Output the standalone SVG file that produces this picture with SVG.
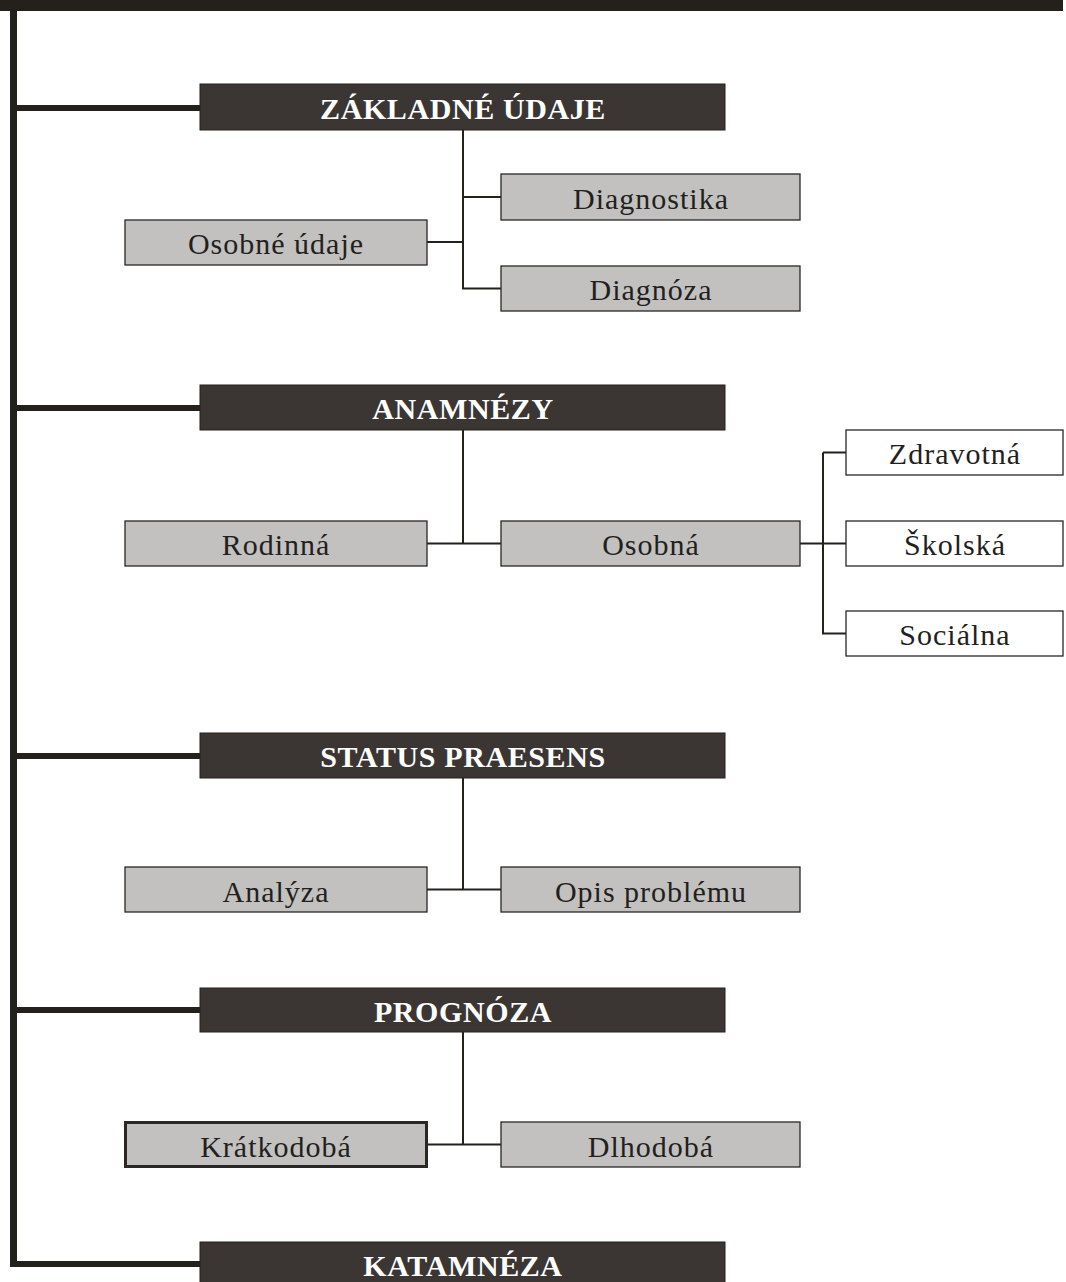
<svg xmlns="http://www.w3.org/2000/svg" width="1066" height="1282" viewBox="0 0 1066 1282">
  <style>
    .head { fill: #3b3633; stroke: #24211c; stroke-width: 1; }
    .item { fill: #c2c1bf; stroke: #2a2724; stroke-width: 1.3; }
    .leaf { fill: #ffffff; stroke: #2a2724; stroke-width: 1.3; }
    .bold { stroke-width: 3; }
    .htxt { font-family: "Liberation Serif", "Times New Roman", serif; font-weight: bold; font-size: 30px; fill: #ffffff; letter-spacing: 0.6px; text-anchor: middle; }
    .txt { font-family: "Liberation Serif", "Times New Roman", serif; font-size: 30px; fill: #231f20; letter-spacing: 1px; text-anchor: middle; }
    .spine { stroke: #24211c; fill: none; }
    .thin { stroke: #24211c; stroke-width: 2; fill: none; }
  </style>

  <g id="connectors">
    <!-- top bar and main spine -->
    <rect x="0" y="0" width="1063" height="11" fill="#24211c"/>
    <line class="spine" x1="13.5" y1="11" x2="13.5" y2="1267" stroke-width="7"/>
    <!-- branches from spine to section headers -->
    <line class="spine" x1="13" y1="108" x2="200" y2="108" stroke-width="6"/>
    <line class="spine" x1="13" y1="408" x2="200" y2="408" stroke-width="6"/>
    <line class="spine" x1="13" y1="756" x2="200" y2="756" stroke-width="6"/>
    <line class="spine" x1="13" y1="1010" x2="200" y2="1010" stroke-width="6"/>
    <line class="spine" x1="13" y1="1264" x2="200" y2="1264" stroke-width="6"/>

    <!-- Základné údaje -->
    <path class="thin" d="M463,130 V288.5 H501 M463,197 H501 M427,242 H463"/>
    <!-- Anamnézy -->
    <path class="thin" d="M463,430 V543.5 M427,543.5 H501 M800,543.5 H846 M823,452.5 V633.5 H846 M823,452.5 H846"/>
    <!-- Status praesens -->
    <path class="thin" d="M463,778 V889.5 M427,889.5 H501"/>
    <!-- Prognóza -->
    <path class="thin" d="M463,1032 V1144.5 M427,1144.5 H501"/>
  </g>

  <g id="zakladne-udaje">
    <rect class="head" x="200" y="84" width="525" height="46"/>
    <text class="htxt" x="463" y="119">ZÁKLADNÉ ÚDAJE</text>
  </g>
  <g id="diagnostika">
    <rect class="item" x="501" y="174" width="299" height="46"/>
    <text class="txt" x="651" y="209">Diagnostika</text>
  </g>
  <g id="osobne-udaje">
    <rect class="item" x="125" y="220" width="302" height="45"/>
    <text class="txt" x="276" y="254">Osobné údaje</text>
  </g>
  <g id="diagnoza">
    <rect class="item" x="501" y="266" width="299" height="45"/>
    <text class="txt" x="651" y="300">Diagnóza</text>
  </g>

  <g id="anamnezy">
    <rect class="head" x="200" y="385" width="525" height="45"/>
    <text class="htxt" x="463" y="419">ANAMNÉZY</text>
  </g>
  <g id="rodinna">
    <rect class="item" x="125" y="521" width="302" height="45"/>
    <text class="txt" x="276" y="555">Rodinná</text>
  </g>
  <g id="osobna">
    <rect class="item" x="501" y="521" width="299" height="45"/>
    <text class="txt" x="651" y="555">Osobná</text>
  </g>
  <g id="zdravotna">
    <rect class="leaf" x="846" y="430" width="217" height="45"/>
    <text class="txt" x="955" y="464">Zdravotná</text>
  </g>
  <g id="skolska">
    <rect class="leaf" x="846" y="521" width="217" height="45"/>
    <text class="txt" x="955" y="555">Školská</text>
  </g>
  <g id="socialna">
    <rect class="leaf" x="846" y="611" width="217" height="45"/>
    <text class="txt" x="955" y="645">Sociálna</text>
  </g>

  <g id="status-praesens">
    <rect class="head" x="200" y="733" width="525" height="45"/>
    <text class="htxt" x="463" y="766.5">STATUS PRAESENS</text>
  </g>
  <g id="analyza">
    <rect class="item" x="125" y="867" width="302" height="45"/>
    <text class="txt" x="276" y="901.5">Analýza</text>
  </g>
  <g id="opis-problemu">
    <rect class="item" x="501" y="867" width="299" height="45"/>
    <text class="txt" x="651" y="901.5">Opis problému</text>
  </g>

  <g id="prognoza">
    <rect class="head" x="200" y="988" width="525" height="44"/>
    <text class="htxt" x="463" y="1021.5">PROGNÓZA</text>
  </g>
  <g id="kratkodoba">
    <rect class="item bold" x="125.5" y="1122.5" width="301" height="44"/>
    <text class="txt" x="276" y="1156.5">Krátkodobá</text>
  </g>
  <g id="dlhodoba">
    <rect class="item" x="501" y="1122" width="299" height="45"/>
    <text class="txt" x="651" y="1156.5">Dlhodobá</text>
  </g>

  <g id="katamneza">
    <rect class="head" x="200" y="1242" width="525" height="46"/>
    <text class="htxt" x="463" y="1276">KATAMNÉZA</text>
  </g>
</svg>
